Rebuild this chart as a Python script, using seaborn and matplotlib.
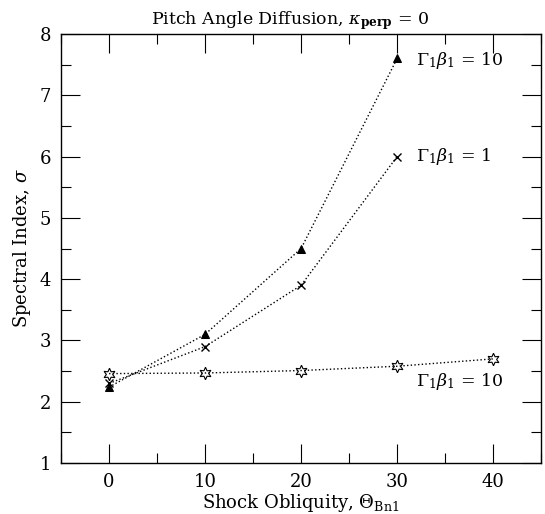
import matplotlib
matplotlib.use("Agg")
import matplotlib.pyplot as plt
import seaborn as sns
import pandas as pd
from matplotlib.ticker import MultipleLocator

sns.set_theme(style="ticks")
plt.rcParams['font.family'] = ['DejaVu Serif']
plt.rcParams['mathtext.fontset'] = 'dejavuserif'

# Data
theta_10 = [0, 10, 20, 30]
sigma_10 = [2.24, 3.1, 4.5, 7.6]
theta_1 = [0, 10, 20, 30]
sigma_1 = [2.3, 2.9, 3.9, 6.0]
theta_star = [0, 10, 20, 30, 40]
sigma_star = [2.46, 2.47, 2.51, 2.58, 2.7]

df10 = pd.DataFrame({"theta": theta_10, "sigma": sigma_10})
df1 = pd.DataFrame({"theta": theta_1, "sigma": sigma_1})
dfs = pd.DataFrame({"theta": theta_star, "sigma": sigma_star})

fig = plt.figure(figsize=(5.45, 5.14), dpi=100)
ax = fig.add_axes([0.112, 0.099, 0.881, 0.835])

line_kw = dict(color="black", linestyle=":", linewidth=1.0, ax=ax, legend=False)
sns.lineplot(data=df10, x="theta", y="sigma", marker="^", markersize=6,
             markerfacecolor="black", markeredgecolor="black", **line_kw)
sns.lineplot(data=df1, x="theta", y="sigma", marker="x", markersize=6,
             markeredgecolor="black", markeredgewidth=1.0, **line_kw)
sns.lineplot(data=dfs, x="theta", y="sigma", marker=(6, 1, 0), markersize=9,
             markerfacecolor="none", markeredgecolor="black", markeredgewidth=0.8, **line_kw)

ax.set_xlim(-5, 45)
ax.set_ylim(1, 8)
ax.xaxis.set_major_locator(MultipleLocator(10))
ax.xaxis.set_minor_locator(MultipleLocator(5))
ax.yaxis.set_major_locator(MultipleLocator(1))
ax.yaxis.set_minor_locator(MultipleLocator(0.5))
ax.tick_params(which="both", direction="in", top=True, right=True, color="black",
               labelsize=13, labelcolor="black")
ax.tick_params(which="major", length=14, width=0.8, pad=7)
ax.tick_params(which="minor", length=7, width=0.8)
for s in ax.spines.values():
    s.set_color("black")
    s.set_linewidth(1.0)

ax.set_xlabel(r"Shock Obliquity, $\Theta_{\rm Bn1}$", fontsize=13, color="black", labelpad=1)
ax.set_ylabel(r"Spectral Index, $\sigma$", fontsize=13, color="black", labelpad=5)
ax.set_title(r"Pitch Angle Diffusion, $\kappa_{\mathbf{perp}}$ = 0", fontsize=12.5,
             color="black", pad=7, x=0.476)

lab = r"$\Gamma_1\beta_1$ = 10"
ax.text(32, 7.57, lab, fontsize=12.5, ha="left", va="center", color="black")
ax.text(32, 6.0, r"$\Gamma_1\beta_1$ = 1", fontsize=12.5, ha="left", va="center", color="black")
ax.text(32, 2.33, lab, fontsize=12.5, ha="left", va="center", color="black")

fig.savefig("out.png", dpi=100)
